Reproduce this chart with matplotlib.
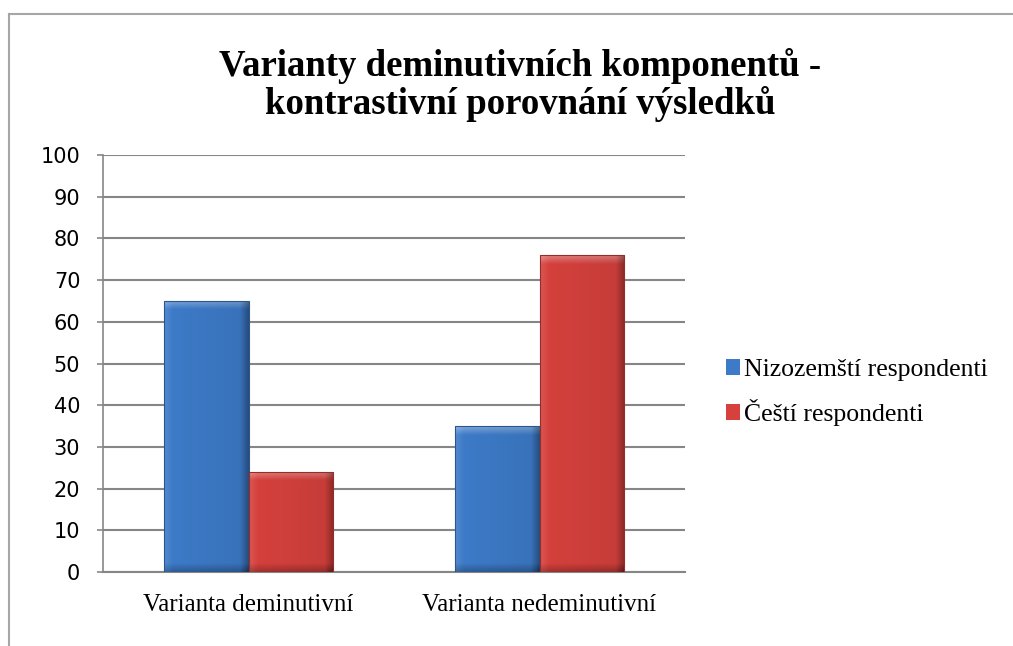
import numpy as np
import matplotlib
matplotlib.use("Agg")
import matplotlib.pyplot as plt
from matplotlib.lines import Line2D
from matplotlib.colors import to_rgb

categories = ["Varianta deminutivní", "Varianta nedeminutivní"]
series = ["Nizozemští respondenti", "Čeští respondenti"]
nizozemsti = [65, 35]
cesti = [24, 76]
yticks = list(range(0, 101, 10))

BLUE = "#3d7bc9"
RED = "#d6413d"
GRID = "#868686"
BORDER = "#a6a6a6"

fig = plt.figure(figsize=(10.13, 6.46), dpi=100)

# outer chart border: only left and top are visible in the crop
fig.add_artist(Line2D([9 / 1013, 9 / 1013], [0, 1 - 14 / 646],
                      transform=fig.transFigure, color=BORDER, lw=1.5))
fig.add_artist(Line2D([9 / 1013, 1], [1 - 14 / 646, 1 - 14 / 646],
                      transform=fig.transFigure, color=BORDER, lw=1.5))

ax = fig.add_axes([103 / 1013, 1 - 572 / 646, (685 - 103) / 1013, (572 - 155) / 646])

x = np.arange(len(categories))
w = 0.289
b1 = ax.bar(x - w / 2, nizozemsti, w, color=BLUE, lw=0, label=series[0], zorder=3)
b2 = ax.bar(x + w / 2, cesti, w, color=RED, lw=0, label=series[1], zorder=3)

ax.set_xlim(-0.5, 1.5)
ax.set_ylim(0, 100)


def bevel(rect, color):
    # soft bevel shading laid over a bar, clipped to it
    x0, y0 = rect.get_x(), rect.get_y()
    bw, bh = rect.get_width(), rect.get_height()
    px_w = bw / 2 * (685 - 103)
    px_h = bh / 100 * (572 - 155)
    nx, ny = int(px_w), max(int(px_h), 2)
    xx = np.arange(nx)[None, :] + 0.5
    yy = np.arange(ny)[:, None] + 0.5  # from top
    base = np.array(to_rgb(color))
    img = np.ones((ny, nx, 3)) * base
    bv = 9.0
    top = np.clip(1 - yy / bv, 0, 1)
    left = np.clip(1 - xx / bv, 0, 1)
    right = np.clip(1 - (nx - xx) / bv, 0, 1)
    bot = np.clip(1 - (ny - yy) / bv, 0, 1)
    light = 0.35 * top + 0.12 * left
    dark = 0.30 * right + 0.25 * bot + 0.08 * (xx / nx)
    img = img + (1 - img) * light[..., None]
    img = img * (1 - dark[..., None])
    img = np.clip(img, 0, 1)
    im = ax.imshow(img, extent=(x0, x0 + bw, y0, y0 + bh), aspect="auto",
                   zorder=3.5, interpolation="bilinear")
    im.set_clip_path(rect)
    ax.add_patch(plt.Rectangle((x0, y0), bw, bh, fill=False,
                               ec=tuple(base * 0.7), lw=0.8, zorder=3.6))


for r in b1:
    bevel(r, BLUE)
for r in b2:
    bevel(r, RED)

ax.set_xlim(-0.5, 1.5)
ax.set_ylim(0, 100)
ax.set_yticks(yticks)
ax.set_yticklabels([str(t) for t in yticks], fontsize=15, family="DejaVu Sans")
ax.set_xticks(x)
ax.set_xticklabels(categories, fontsize=18, family="Liberation Serif")
ax.tick_params(axis="x", length=0, pad=16)
ax.tick_params(axis="y", length=4.3, width=1.2, color=GRID, pad=12)

ax.grid(axis="y", color=GRID, lw=1.5, zorder=0)
for s in ["top", "right"]:
    ax.spines[s].set_visible(False)
ax.spines["left"].set_color(GRID)
ax.spines["left"].set_linewidth(1.2)
ax.spines["bottom"].set_color(GRID)
ax.spines["bottom"].set_linewidth(1.5)

fig.text(520 / 1013, 1 - 85 / 646,
         "Varianty deminutivních komponentů -\nkontrastivní porovnání výsledků",
         ha="center", va="center", fontsize=26.5, fontweight="bold",
         family="Liberation Serif", linespacing=1.1)

ax.legend(loc="center left", bbox_to_anchor=(1.03, 0.43), frameon=False,
          prop={"family": "Liberation Serif", "size": 18.5},
          handlelength=0.55, handleheight=0.55, handletextpad=0.15,
          labelspacing=0.7)

fig.savefig("out.png", dpi=100)
